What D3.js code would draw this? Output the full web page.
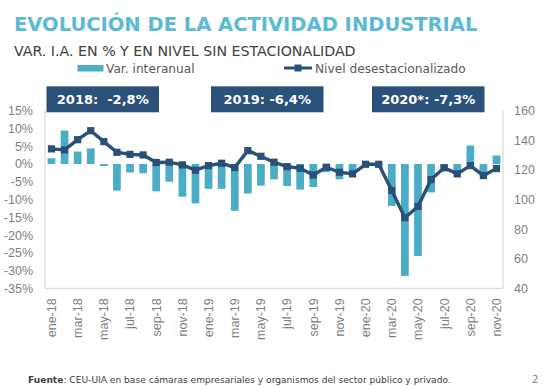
<!DOCTYPE html>
<meta charset="utf-8">
<style>
body { margin: 0; background: #fff; }
svg { font-family: "DejaVu Sans", Verdana, sans-serif; }
.axis text { fill: #7f7f7f; font-size: 12.5px; }
</style>
<svg width="544" height="386"></svg>
<script src="https://cdnjs.cloudflare.com/ajax/libs/d3/7.8.5/d3.min.js"></script>
<script>

// meses ene-18 .. nov-20
var months = ["ene-18","feb-18","mar-18","abr-18","may-18","jun-18","jul-18","ago-18","sep-18","oct-18","nov-18","dic-18",
              "ene-19","feb-19","mar-19","abr-19","may-19","jun-19","jul-19","ago-19","sep-19","oct-19","nov-19","dic-19",
              "ene-20","feb-20","mar-20","abr-20","may-20","jun-20","jul-20","ago-20","sep-20","oct-20","nov-20"];

// var. interanual (%)
var varIA = [1.6, 9.4, 3.5, 4.4, -0.6, -7.5, -2.4, -2.6, -7.7, -5.0, -9.2, -11.1,
             -7.0, -7.0, -13.2, -8.3, -6.1, -4.3, -6.2, -7.2, -6.5, -2.3, -4.3, -2.2,
             -0.3, -1.0, -11.8, -31.5, -25.9, -8.0, -1.2, -2.6, 5.2, -3.4, 2.4];

// nivel desestacionalizado
var nivel = [134.2, 133.5, 140.4, 146.5, 139.1, 131.9, 130.5, 130.1, 125.0, 125.2, 123.4, 119.8,
             122.9, 124.5, 121.6, 133.0, 129.2, 125.2, 122.2, 121.1, 116.6, 121.8, 118.4, 117.3,
             123.8, 123.8, 106.1, 87.7, 95.3, 113.5, 121.4, 117.3, 122.9, 116.2, 120.9];

var leftTicks = [15, 10, 5, 0, -5, -10, -15, -20, -25, -30, -35];
var rightTicks = [160, 140, 120, 100, 80, 60, 40];
var yearBoxes = ["2018:  -2,8%", "2019: -6,4%", "2020*: -7,3%"];

var barColor = "#4bacc6",
    lineColor = "#2a5078";

var svg = d3.select("svg");

var margin = {left: 45, right: 41, top: 110.7, bottom: 97.7};
var x0 = margin.left, x1 = 544 - margin.right,
    y0 = margin.top, y1 = 386 - margin.bottom;

var x = d3.scaleBand().domain(months).range([x0, x1]).paddingInner(0.41).paddingOuter(0.2);
var yL = d3.scaleLinear().domain([-35, 15]).range([y1, y0]);
var yR = d3.scaleLinear().domain([40, 160]).range([y1, y0]);

// titulos
svg.append("text")
    .attr("x", 14).attr("y", 30.5)
    .attr("fill", "#5bbad5")
    .style("font-weight", "bold").style("font-size", "19.5px")
    .text("EVOLUCIÓN DE LA ACTIVIDAD INDUSTRIAL");

svg.append("text")
    .attr("x", 14).attr("y", 56)
    .attr("fill", "#404040")
    .style("font-size", "14.2px")
    .text("VAR. I.A. EN % Y EN NIVEL SIN ESTACIONALIDAD");

// leyenda
svg.append("rect").attr("x", 77.5).attr("y", 65).attr("width", 26).attr("height", 6.5).attr("fill", barColor);
svg.append("text").attr("x", 106).attr("y", 73).attr("fill", "#595959").style("font-size", "12.2px").text("Var. interanual");
svg.append("line").attr("x1", 284).attr("x2", 312).attr("y1", 68).attr("y2", 68)
    .attr("stroke", lineColor).attr("stroke-width", 3);
svg.append("rect").attr("x", 294.5).attr("y", 64.5).attr("width", 7).attr("height", 7).attr("fill", lineColor);
svg.append("text").attr("x", 315).attr("y", 73).attr("fill", "#595959").style("font-size", "12.2px").text("Nivel desestacionalizado");

// marco
var frame = svg.append("g").attr("stroke", "#d9d9d9").attr("stroke-width", 1.2);
frame.append("line").attr("x1", x0).attr("x2", x0).attr("y1", y0).attr("y2", y1);
frame.append("line").attr("x1", x1).attr("x2", x1).attr("y1", y0).attr("y2", y1);
frame.append("line").attr("x1", x0).attr("x2", x1).attr("y1", y1).attr("y2", y1);

// barras
svg.append("g").selectAll("rect")
    .data(varIA)
    .enter().append("rect")
    .attr("x", function(d, i) { return x(months[i]); })
    .attr("width", x.bandwidth())
    .attr("y", function(d) { return yL(Math.max(0, d)); })
    .attr("height", function(d) { return Math.abs(yL(d) - yL(0)); })
    .attr("fill", barColor);

// linea
var line = d3.line()
    .x(function(d, i) { return x(months[i]) + x.bandwidth() / 2; })
    .y(function(d) { return yR(d); });

svg.append("path")
    .datum(nivel)
    .attr("d", line)
    .attr("fill", "none")
    .attr("stroke", lineColor)
    .attr("stroke-width", 3.4)
    .attr("stroke-linejoin", "round");

svg.append("g").selectAll("rect")
    .data(nivel)
    .enter().append("rect")
    .attr("x", function(d, i) { return x(months[i]) + x.bandwidth() / 2 - 3.6; })
    .attr("y", function(d) { return yR(d) - 3.6; })
    .attr("width", 7.2).attr("height", 7.2)
    .attr("fill", lineColor);

// ejes
var fmtPct = function(d) { return (d < 0 ? "-" : "") + Math.abs(d) + "%"; };

svg.append("g").attr("class", "axis")
    .attr("transform", "translate(" + x0 + ",0)")
    .call(d3.axisLeft(yL).tickValues(leftTicks).tickFormat(fmtPct).tickSize(0).tickPadding(12))
    .call(function(g) { g.select(".domain").remove(); });

svg.append("g").attr("class", "axis")
    .attr("transform", "translate(" + x1 + ",0)")
    .call(d3.axisRight(yR).tickValues(rightTicks).tickSize(0).tickPadding(11))
    .call(function(g) { g.select(".domain").remove(); });

var xAxis = svg.append("g").attr("class", "axis")
    .attr("transform", "translate(0," + y1 + ")")
    .call(d3.axisBottom(x).tickValues(months.filter(function(d, i) { return i % 2 == 0; })).tickSize(0))
    .call(function(g) { g.select(".domain").remove(); });

xAxis.selectAll("text")
    .attr("transform", "rotate(-90)")
    .attr("x", -10).attr("y", 0).attr("dy", "0.35em")
    .style("text-anchor", "end");

// recuadros por año
var boxX = [46.5, 211, 372];
var boxes = svg.append("g").selectAll("g")
    .data(yearBoxes)
    .enter().append("g")
    .attr("transform", function(d, i) { return "translate(" + boxX[i] + ",86.3)"; });
boxes.append("rect").attr("width", 112.5).attr("height", 26).attr("fill", "#2b517a");
boxes.append("text")
    .attr("x", 56.25).attr("y", 18)
    .attr("text-anchor", "middle")
    .attr("fill", "#fff")
    .style("font-weight", "bold").style("font-size", "13px")
    .style("white-space", "pre")
    .text(function(d) { return d; });

// fuente
var src = svg.append("text").attr("x", 28).attr("y", 383).attr("fill", "#404040").style("font-size", "9.1px");
src.append("tspan").style("font-weight", "bold").text("Fuente");
src.append("tspan").text(": CEU-UIA en base cámaras empresariales y organismos del sector público y privado.");

svg.append("text").attr("x", 532).attr("y", 383).attr("fill", "#7f7f7f").style("font-size", "10px").text("2");

</script>
